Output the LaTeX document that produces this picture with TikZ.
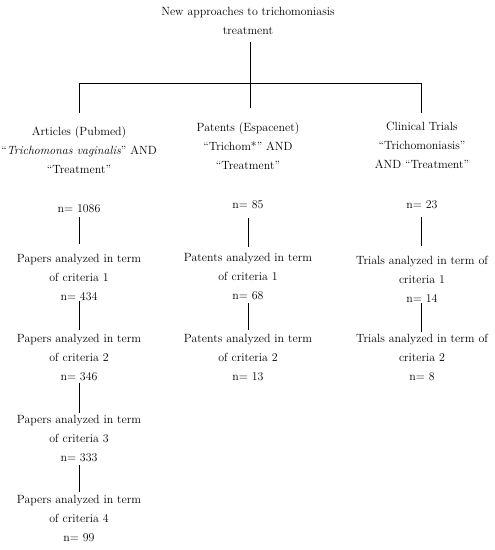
\documentclass[tikz,border=0pt]{standalone}
\usepackage{fontspec}
\begin{document}
\begin{tikzpicture}[x=1pt,y=-1pt,
  txt/.style={align=center, inner sep=0pt, font=\fontsize{11.9}{19}\selectfont},
  link/.style={line width=0.9pt, black}]
\useasboundingbox (0,0) rectangle (495,550);
% title and sources
\node[txt] (title) at (248,21) {New approaches to trichomoniasis\\treatment};
\node[txt] (art) at (79,150) {Articles (Pubmed)\\``\textit{Trichomonas vaginalis}'' AND\\``Treatment''};
\node[txt] (pat) at (248,146) {Patents (Espacenet)\\``Trichom*'' AND\\``Treatment''};
\node[txt] (cli) at (422,145) {Clinical Trials\\``Trichomoniasis''\\AND ``Treatment''};
% counts
\node[txt] (n1) at (79,209) {n= 1086};
\node[txt] (n2) at (248,205) {n= 85};
\node[txt] (n3) at (422,205) {n= 23};
% articles column
\node[txt] (a1) at (79,277.5) {Papers analyzed in term\\of criteria 1\\n= 434};
\node[txt] (a2) at (79,357.5) {Papers analyzed in term\\of criteria 2\\n= 346};
\node[txt] (a3) at (79,438.5) {Papers analyzed in term\\of criteria 3\\n= 333};
\node[txt] (a4) at (79,518) {Papers analyzed in term\\of criteria 4\\n= 99};
% patents column
\node[txt] (b1) at (248,276.5) {Patents analyzed in term\\of criteria 1\\n= 68};
\node[txt] (b2) at (248,357.5) {Patents analyzed in term\\of criteria 2\\n= 13};
% trials column
\node[txt] (c1) at (422,279.5) {Trials analyzed in term of\\criteria 1\\n= 14};
\node[txt] (c2) at (422,357.5) {Trials analyzed in term of\\criteria 2\\n= 8};
% tree junction
\coordinate (jm) at (250,83);
\coordinate (jl) at (79,83);
\coordinate (jr) at (421,83);
\coordinate (pm) at (250,108);
\draw[link] (title.south -| jm) ++(0,7) -- (pm);
\draw[link] (jl) -- (jr);
\draw[link] (jl) -- ++(0,30);
\draw[link] (jr) -- ++(0,30);
% vertical connectors
\draw[link] ([yshift=-4pt]n1.south) -- ([yshift=10pt]a1.north);
\draw[link] ([yshift=-9pt]n2.south) -- ([yshift=6pt]b1.north);
\draw[link] ([xshift=-1pt,yshift=-8pt]n3.south) -- ([xshift=-1pt,yshift=10pt]c1.north);
\draw[link] ([yshift=0pt]a1.south) -- ([yshift=4pt]a2.north);
\draw[link] ([yshift=-3pt]b1.south) -- ([yshift=4pt]b2.north);
\draw[link] ([xshift=-1pt]c1.south) -- ([xshift=-1pt,yshift=2pt]c2.north);
\draw[link] ([yshift=-2pt]a2.south) -- ([yshift=2pt]a3.north);
\draw[link] ([yshift=-3pt]a3.south) -- ([yshift=3pt]a4.north);
\end{tikzpicture}
\end{document}
